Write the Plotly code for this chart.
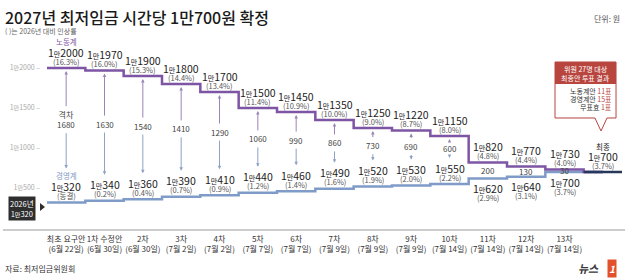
import plotly.graph_objects as go

# ---------------- data ----------------
rounds = ["최초 요구안", "1차 수정안", "2차", "3차", "4차", "5차", "6차",
          "7차", "8차", "9차", "10차", "11차", "12차", "13차"]
dates = ["6월 22일", "6월 30일", "6월 30일", "7월 2일", "7월 2일", "7월 7일", "7월 7일",
         "7월 9일", "7월 9일", "7월 9일", "7월 14일", "7월 14일", "7월 14일", "7월 14일"]
labor = [12000, 11970, 11900, 11800, 11700, 11500, 11450, 11350, 11250, 11220,
         11150, 10820, 10770, 10730]
labor_pct = ["16.3%", "16.0%", "15.3%", "14.4%", "13.4%", "11.4%", "10.9%", "10.0%",
             "9.0%", "8.7%", "8.0%", "4.8%", "4.4%", "4.0%"]
employer = [10320, 10340, 10360, 10390, 10410, 10440, 10460, 10490, 10520, 10530,
            10550, 10620, 10640, 10700]
employer_pct = ["동결", "0.2%", "0.4%", "0.7%", "0.9%", "1.2%", "1.4%", "1.6%",
                "1.9%", "2.0%", "2.2%", "2.9%", "3.1%", "3.7%"]
gaps = [1680, 1630, 1540, 1410, 1290, 1060, 990, 860, 730, 690, 600, 200, 130, 30]
final_value = 10700
final_pct = "3.7%"
base_2026 = 10320
y_ticks = [10500, 11000, 11500, 12000]
vote_names = ["노동계안", "경영계안", "무표효"]
vote_counts = ["11표", "15표", "1표"]

# ---------------- style ----------------
W, H = 628, 279
L, R, T, B = 47, 6, 40, 49
YMIN, YMAX = 9975, 12350
FONT = "Noto Sans CJK KR, Noto Sans, sans-serif"
PURPLE = "#7e55a4"
BLUE = "#7f9bc8"
DARK = "#263759"
ARROW_UP = "#9a84b8"
ARROW_DN = "#8ea2c6"
RED = "#b8453e"
TXT = "#222222"
PCT = "#555555"

n = len(labor)
ppu = (H - T - B) / (YMAX - YMIN)


def man(v, small=7):
    return f"1<span style='font-size:{small}px'>만</span>{v - 10000}"


def px2paper(x, y):
    return (x - L) / (W - L - R), (H - B - y) / (H - T - B)


fig = go.Figure()
xs = [-0.5] + list(range(n)) + [n]
fig.add_trace(go.Scatter(x=xs, y=[employer[0]] + employer + [final_value], mode="lines",
                         line=dict(color=BLUE, width=2.5, shape="hvh"), hoverinfo="skip"))
fig.add_trace(go.Scatter(x=xs, y=[labor[0]] + labor + [final_value], mode="lines",
                         line=dict(color=PURPLE, width=2.5, shape="hvh"), hoverinfo="skip"))
fig.add_trace(go.Scatter(x=[n - 0.5, n + 0.5], y=[final_value, final_value], mode="lines",
                         line=dict(color=DARK, width=2.5), hoverinfo="skip"))

ann = []


def txt(x, y, text, size, color, yshift=0, **kw):
    d = dict(x=x, y=y, text=text, showarrow=False, yshift=yshift,
             font=dict(family=FONT, size=size, color=color), xanchor="center", yanchor="middle")
    d.update(kw)
    ann.append(d)


for i in range(n):
    txt(i, labor[i], man(labor[i]), 10.5, TXT, yshift=16)
    txt(i, labor[i], f"({labor_pct[i]})", 7.5, PCT, yshift=7)
    if i <= 10:
        txt(i, employer[i], man(employer[i]), 10.5, TXT, yshift=16)
        txt(i, employer[i], f"({employer_pct[i]})", 7.5, PCT, yshift=7)
        emp_top = employer[i] + (34 if i == 0 else 26) / ppu
    else:
        txt(i, employer[i], man(employer[i]), 10.5, TXT, yshift=-10)
        txt(i, employer[i], f"({employer_pct[i]})", 7.5, PCT, yshift=-19)
        emp_top = employer[i] + 3 / ppu
    lab_bot = labor[i] - 3 / ppu
    mid = (lab_bot + emp_top) / 2
    gtext = f"격차<br>{gaps[i]}" if i == 0 else f"{gaps[i]}"
    if i <= 11:
        ss = 12 if i == 0 else 7
        for head, col in ((lab_bot, ARROW_UP), (emp_top, ARROW_DN)):
            ann.append(dict(x=i, y=head, ax=i, ay=mid, axref="x", ayref="y", text="",
                            showarrow=True, arrowhead=2, arrowsize=0.7, arrowwidth=1,
                            arrowcolor=col, standoff=0, startstandoff=ss))
    txt(i, mid, gtext, 8, "#444444")

txt(0, labor[0], "노동계", 7.5, PURPLE, yshift=27)
txt(0, employer[0], "경영계", 7.5, BLUE, yshift=27)
txt(n, final_value, "최종", 7.5, TXT, yshift=26)
txt(n, final_value, man(final_value), 10.5, TXT, yshift=16)
txt(n, final_value, f"({final_pct})", 7.5, PCT, yshift=7)


# headers / footers
def ptxt(px, py, text, size, color, xanchor="left", **kw):
    xp, yp = px2paper(px, py)
    d = dict(x=xp, y=yp, xref="paper", yref="paper", text=text, showarrow=False,
             font=dict(family=FONT, size=size, color=color), xanchor=xanchor, yanchor="middle")
    d.update(kw)
    ann.append(d)


ptxt(3, 17, "2027년 최저임금 시간당 1만700원 확정", 16, "#1a1a1a",
     font=dict(family=FONT, size=16, color="#1a1a1a", weight=500))
ptxt(3, 31, "( )는 2026년 대비 인상률", 7, "#666666")
ptxt(622, 18, "단위: 원", 8, "#555555", xanchor="right")
ptxt(3, 268, "자료: 최저임금위원회", 8, "#333333")
ptxt(601, 268, "뉴스", 11, "#3a3a3a", xanchor="right",
     font=dict(family=FONT, size=11, color="#3a3a3a", weight="bold", style="italic"))
ptxt(612, 268, "<b><i>1</i></b>", 10, "white", xanchor="center", bgcolor="#e2512b", borderpad=1)

# 2026 box
ptxt(21.5, 208.5, f"2026년<br>{man(base_2026, 6)}", 7.5, "white", xanchor="center",
     bgcolor="#2e2e2e", borderpad=1)

shapes = []


def path(points, **kw):
    s = "M " + " L ".join(f"{px2paper(a, b)[0]:.4f},{px2paper(a, b)[1]:.4f}" for a, b in points) + " Z"
    d = dict(type="path", path=s, xref="paper", yref="paper")
    d.update(kw)
    shapes.append(d)


path([(40, 203), (45, 207), (40, 211)], fillcolor="#2e2e2e", line=dict(width=0))

# vote bubble
path([(555, 62), (616, 62), (616, 118), (607, 118), (601, 131), (595, 118), (555, 118)],
     fillcolor="white", line=dict(color=RED, width=1))
path([(555, 62), (616, 62), (616, 84), (555, 84)], fillcolor=RED, line=dict(width=0))
ptxt(585.5, 68.5, "위원 27명 대상", 7, "white", xanchor="center")
ptxt(585.5, 77.5, "최종안 투표 결과", 7, "white", xanchor="center")
for k, (nm, ct) in enumerate(zip(vote_names, vote_counts)):
    ptxt(614, 91 + 8 * k, f"{nm} <span style='color:{RED}'>{ct}</span>", 7, "#333333",
         xanchor="right")

# baseline
x0, _ = px2paper(3, 0)
x1, _ = px2paper(625, 0)
shapes.append(dict(type="line", xref="paper", yref="paper", x0=x0, x1=x1, y0=0, y1=0,
                   line=dict(color="#9a9a9a", width=1)))

fig.update_layout(
    width=W, height=H, margin=dict(l=L, r=R, t=T, b=B),
    paper_bgcolor="white", plot_bgcolor="white", showlegend=False,
    font=dict(family=FONT),
    annotations=ann, shapes=shapes,
    xaxis=dict(range=[-0.5, n + 0.5], tickvals=list(range(n)),
               ticktext=[f"{r}<br>({d})" for r, d in zip(rounds, dates)],
               tickfont=dict(family=FONT, size=8, color="#333333"), tickangle=0,
               showgrid=False, zeroline=False, showline=False, ticks="", ticklabelstandoff=3),
    yaxis=dict(range=[YMIN, YMAX], tickvals=y_ticks,
               ticktext=[f"{man(v, 6)} –" for v in y_ticks],
               tickfont=dict(family=FONT, size=7, color="#aaaaaa"),
               showgrid=False, zeroline=False, showline=False, ticks="", ticklabelstandoff=6),
)
fig.write_html("out.html")
